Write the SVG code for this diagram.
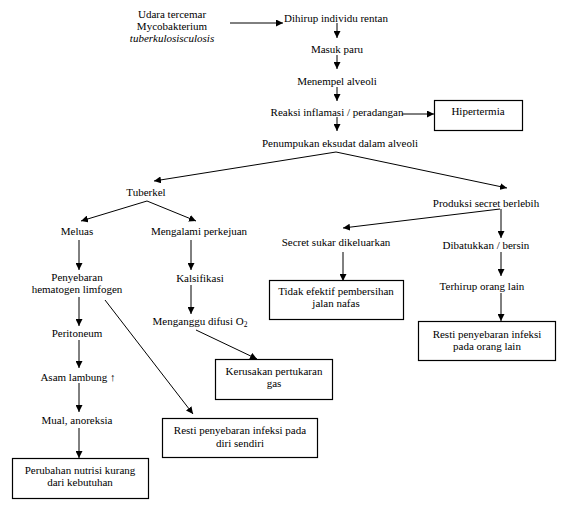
<svg xmlns="http://www.w3.org/2000/svg" width="576" height="505" viewBox="0 0 576 505">
<style>
.t text{font-family:'Liberation Serif','Times New Roman','DejaVu Serif',serif;font-size:11px;fill:#000;text-anchor:middle}
.c line{stroke:#000;stroke-width:1;fill:none}
.arr{marker-end:url(#ah)}
.box{fill:#fff;stroke:#000;stroke-width:1.2}
</style>
<defs>
<marker id="ah" viewBox="0 0 10 10" refX="10" refY="5" markerWidth="7" markerHeight="7" markerUnits="userSpaceOnUse" orient="auto">
<path d="M0,0 L10,5 L0,10 z" fill="#000"/>
</marker>
</defs>
<rect x="0" y="0" width="576" height="505" fill="#fff"/>
<g class="c" id="connectors">
<line class="arr" x1="230" y1="23" x2="283" y2="23"/>
<line class="arr" x1="337" y1="23" x2="337" y2="38"/>
<line class="arr" x1="337" y1="55" x2="337" y2="69"/>
<line class="arr" x1="337" y1="87" x2="337" y2="101"/>
<line class="arr" x1="402" y1="114" x2="434" y2="114"/>
<line class="arr" x1="337" y1="117" x2="337" y2="131"/>
<line class="arr" x1="336" y1="152" x2="154" y2="181"/>
<line class="arr" x1="336" y1="152" x2="507" y2="188"/>
<line class="arr" x1="147" y1="201" x2="81" y2="221"/>
<line class="arr" x1="147" y1="201" x2="196" y2="221"/>
<line class="arr" x1="79" y1="240" x2="79" y2="270"/>
<line class="arr" x1="191" y1="240" x2="191" y2="270"/>
<line class="arr" x1="79" y1="297" x2="79" y2="326"/>
<line class="arr" x1="191" y1="285" x2="191" y2="314"/>
<line class="arr" x1="105" y1="300" x2="193" y2="414"/>
<line class="arr" x1="196" y1="330" x2="257" y2="359"/>
<line class="arr" x1="79" y1="340" x2="79" y2="368"/>
<line class="arr" x1="79" y1="383" x2="79" y2="412"/>
<line class="arr" x1="79" y1="428" x2="79" y2="458"/>
<line class="arr" x1="500" y1="209" x2="343" y2="228"/>
<line class="arr" x1="501" y1="209" x2="501" y2="238"/>
<line class="arr" x1="343" y1="252" x2="343" y2="281"/>
<line class="arr" x1="501" y1="252" x2="501" y2="276"/>
<line class="arr" x1="501" y1="293" x2="501" y2="321"/>
</g>
<g class="t">
<g id="n-udara">
<text x="172" y="18">Udara tercemar</text>
<text x="172" y="30">Mycobakterium</text>
<text x="172" y="42" font-style="italic">tuberkulosisculosis</text>
</g>
<g id="n-dihirup"><text x="336" y="22">Dihirup individu rentan</text></g>
<g id="n-masuk"><text x="337" y="53">Masuk paru</text></g>
<g id="n-menempel"><text x="337" y="85">Menempel alveoli</text></g>
<g id="n-reaksi"><text x="337" y="116">Reaksi inflamasi / peradangan</text></g>
<g id="n-hipertermia"><rect class="box" x="434.5" y="100.5" width="88" height="30"/><text x="478" y="115">Hipertermia</text></g>
<g id="n-penumpukan"><text x="340" y="147">Penumpukan eksudat dalam alveoli</text></g>
<g id="n-tuberkel"><text x="146" y="196">Tuberkel</text></g>
<g id="n-produksi"><text x="486" y="207">Produksi secret berlebih</text></g>
<g id="n-meluas"><text x="77" y="235">Meluas</text></g>
<g id="n-perkejuan"><text x="199" y="235">Mengalami perkejuan</text></g>
<g id="n-secret"><text x="336" y="246">Secret sukar dikeluarkan</text></g>
<g id="n-dibatukkan"><text x="486" y="249">Dibatukkan / bersin</text></g>
<g id="n-penyebaran"><text x="77" y="281">Penyebaran</text><text x="77" y="293">hematogen limfogen</text></g>
<g id="n-kalsifikasi"><text x="200" y="282">Kalsifikasi</text></g>
<g id="n-tidak"><rect class="box" x="269.5" y="280.5" width="134" height="39"/><text x="336" y="295">Tidak efektif pembersihan</text><text x="336" y="307">jalan nafas</text></g>
<g id="n-terhirup"><text x="482" y="290">Terhirup orang lain</text></g>
<g id="n-menganggu"><text x="200" y="325">Menganggu difusi O<tspan font-size="7.5" dy="2">2</tspan></text></g>
<g id="n-resti-lain"><rect class="box" x="418.5" y="321.5" width="137" height="39"/><text x="487" y="338">Resti penyebaran infeksi</text><text x="487" y="350">pada orang lain</text></g>
<g id="n-peritoneum"><text x="77" y="337">Peritoneum</text></g>
<g id="n-kerusakan"><rect class="box" x="215.5" y="359.5" width="117" height="40"/><text x="274" y="375">Kerusakan pertukaran</text><text x="274" y="387">gas</text></g>
<g id="n-asam"><text x="78" y="381">Asam lambung ↑</text></g>
<g id="n-resti-diri"><rect class="box" x="162.5" y="418.5" width="155" height="39"/><text x="240" y="434">Resti penyebaran infeksi pada</text><text x="240" y="447">diri sendiri</text></g>
<g id="n-mual"><text x="77" y="424">Mual, anoreksia</text></g>
<g id="n-perubahan"><rect class="box" x="12.5" y="458.5" width="136" height="40"/><text x="80" y="474">Perubahan nutrisi kurang</text><text x="80" y="486">dari kebutuhan</text></g>
</g>
</svg>
